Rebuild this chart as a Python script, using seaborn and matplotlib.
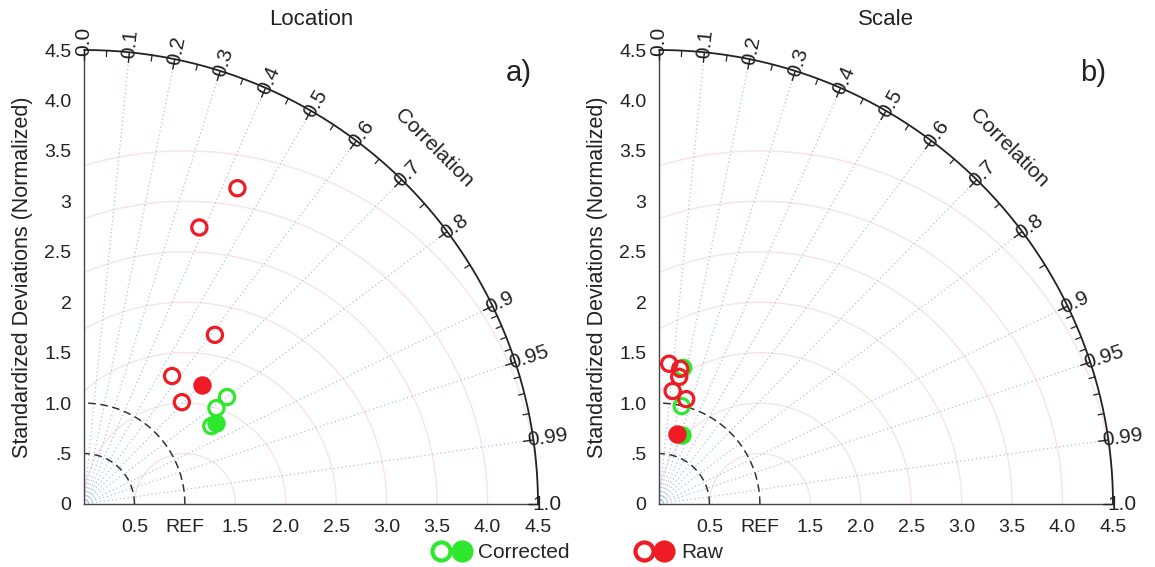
import numpy as np
import matplotlib
matplotlib.use("Agg")
import matplotlib.pyplot as plt
import seaborn as sns
from matplotlib.lines import Line2D
from matplotlib.legend_handler import HandlerTuple

# ---------------- data ----------------
panel_titles = ["Location", "Scale"]
panel_tags = ["a)", "b)"]

# Location panel (a): normalized standard deviation and correlation
loc_raw_std = [3.48, 2.97, 2.12, 1.54, 1.40]
loc_raw_cor = [0.437, 0.385, 0.612, 0.567, 0.693]
loc_raw_mean_std = [1.66]
loc_raw_mean_cor = [0.704]
loc_corr_std = [1.77, 1.62, 1.48]
loc_corr_cor = [0.801, 0.810, 0.853]
loc_corr_mean_std = [1.535]
loc_corr_mean_cor = [0.853]

# Scale panel (b)
sca_raw_std = [1.394, 1.356, 1.276, 1.128, 1.074]
sca_raw_cor = [0.072, 0.155, 0.157, 0.120, 0.251]
sca_raw_mean_std = [0.712]
sca_raw_mean_cor = [0.246]
sca_corr_std = [1.371, 0.996]
sca_corr_cor = [0.175, 0.226]
sca_corr_mean_std = [0.721]
sca_corr_mean_cor = [0.312]

cor_major = [0.0, 0.1, 0.2, 0.3, 0.4, 0.5, 0.6, 0.7, 0.8, 0.9, 0.95, 0.99, 1.0]
cor_major_labels = ["0.0", "0.1", "0.2", "0.3", "0.4", "0.5", "0.6", "0.7",
                    "0.8", "0.9", "0.95", "0.99", "1.0"]
cor_minor = [0.05, 0.15, 0.25, 0.35, 0.45, 0.55, 0.65, 0.75, 0.85,
             0.91, 0.92, 0.93, 0.94, 0.96, 0.97, 0.98]
x_ticks = [0.5, 1.0, 1.5, 2.0, 2.5, 3.0, 3.5, 4.0, 4.5]
x_tick_labels = ["0.5", "REF", "1.5", "2.0", "2.5", "3.0", "3.5", "4.0", "4.5"]
y_ticks = [0, 0.5, 1.0, 1.5, 2.0, 2.5, 3.0, 3.5, 4.0, 4.5]
y_tick_labels = ["0", ".5", "1.0", "1.5", "2", "2.5", "3", "3.5", "4.0", "4.5"]
rms_radii = [0.5, 1.0, 1.5, 2.0, 2.5, 3.0, 3.5]
ref_arcs = [0.5, 1.0]
R_MAX = 4.5

RED = "#ee1c24"
GREEN = "#2ee82e"

sns.set_theme(style="white")
plt.rcParams["font.family"] = ["Liberation Sans", "DejaVu Sans"]

fig = plt.figure(figsize=(11.55, 5.67), dpi=100)
W, H = 1155, 567
size_px = 454
ax_a = fig.add_axes([84 / W, 63 / H, size_px / W, size_px / H])
ax_b = fig.add_axes([659 / W, 63 / H, size_px / W, size_px / H])


def polar_xy(std, cor):
    std = np.asarray(std, float)
    cor = np.asarray(cor, float)
    return std * cor, std * np.sqrt(1 - cor ** 2)


def draw_frame(ax, title, tag):
    ax.set_xlim(0, R_MAX)
    ax.set_ylim(0, R_MAX)
    for s in ["top", "right"]:
        ax.spines[s].set_visible(False)
    for s in ["left", "bottom"]:
        ax.spines[s].set_color("#444444")
        ax.spines[s].set_linewidth(1.0)
    ax.set_xticks(x_ticks)
    ax.set_xticklabels(x_tick_labels)
    ax.set_yticks(y_ticks)
    ax.set_yticklabels(y_tick_labels)
    ax.tick_params(axis="both", direction="in", length=8, width=1,
                   color="#444444", labelsize=14, labelcolor="#222222")
    ax.tick_params(axis="x", pad=11)
    ax.tick_params(axis="y", pad=9)

    # RMS arcs around REF
    t = np.linspace(0, np.pi, 600)
    for r in rms_radii:
        x = 1 + r * np.cos(t)
        y = r * np.sin(t)
        m = (x < 0) | (np.hypot(x, y) > R_MAX)
        x[m] = np.nan
        y[m] = np.nan
        ax.plot(x, y, color="#f8e3e5", lw=1.0, zorder=1)

    # correlation rays
    for c in cor_major[1:-1]:
        ax.plot([0, R_MAX * c], [0, R_MAX * np.sqrt(1 - c ** 2)],
                ls=(0, (1, 2.2)), color="#adc2ea", lw=0.9, zorder=1)

    # dashed reference arcs
    tq = np.linspace(0, np.pi / 2, 200)
    for r in ref_arcs:
        ax.plot(r * np.cos(tq), r * np.sin(tq), ls=(0, (5, 3)),
                color="#333333", lw=1.1, zorder=2)

    # outer arc
    ax.plot(R_MAX * np.cos(tq), R_MAX * np.sin(tq), color="#222222",
            lw=1.3, clip_on=False, zorder=3)
    for c in cor_major:
        s = np.sqrt(1 - c ** 2)
        ax.plot([(R_MAX - 0.1) * c, R_MAX * c], [(R_MAX - 0.1) * s, R_MAX * s],
                color="#222222", lw=1.0, clip_on=False, zorder=3)
    for c in cor_minor:
        s = np.sqrt(1 - c ** 2)
        ax.plot([(R_MAX - 0.06) * c, R_MAX * c], [(R_MAX - 0.06) * s, R_MAX * s],
                color="#222222", lw=0.9, clip_on=False, zorder=3)
    for c, lab in zip(cor_major, cor_major_labels):
        s = np.sqrt(1 - c ** 2)
        ang = np.degrees(np.arccos(c))
        ax.text(4.44 * c, 4.44 * s, lab, rotation=ang, rotation_mode="anchor",
                ha="left", va="center", fontsize=15, color="#222222",
                clip_on=False)

    ax.text(3.47, 3.53, "Correlation", rotation=-45, ha="center", va="center",
            fontsize=15, color="#222222", rotation_mode="anchor")
    ax.text(0.5, 1.068, title, transform=ax.transAxes, ha="center",
            va="center", fontsize=16, color="#222222")
    ax.text(0.957, 0.95, tag, transform=ax.transAxes, ha="center",
            va="center", fontsize=21, color="#222222")
    ax.set_ylabel("Standardized Deviations (Normalized)", fontsize=15.5,
                  color="#222222", labelpad=8)


def draw_points(ax, std, cor, color, filled):
    x, y = polar_xy(std, cor)
    sns.scatterplot(x=x, y=y, ax=ax, s=120, marker="o",
                    facecolor=color if filled else "none",
                    edgecolor=color, linewidth=2.3, zorder=6,
                    clip_on=False, legend=False)


panels = [
    (ax_a, loc_raw_std, loc_raw_cor, loc_raw_mean_std, loc_raw_mean_cor,
     loc_corr_std, loc_corr_cor, loc_corr_mean_std, loc_corr_mean_cor),
    (ax_b, sca_raw_std, sca_raw_cor, sca_raw_mean_std, sca_raw_mean_cor,
     sca_corr_std, sca_corr_cor, sca_corr_mean_std, sca_corr_mean_cor),
]

for i, (ax, rs, rc, rms, rmc, cs, cc, cms, cmc) in enumerate(panels):
    draw_frame(ax, panel_titles[i], panel_tags[i])
    draw_points(ax, cs, cc, GREEN, False)
    draw_points(ax, cms, cmc, GREEN, True)
    draw_points(ax, rs, rc, RED, False)
    draw_points(ax, rms, rmc, RED, True)

# legends
def legend_handles(color):
    h_open = Line2D([], [], ls="none", marker="o", ms=13, mfc="white",
                    mec=color, mew=3)
    h_fill = Line2D([], [], ls="none", marker="o", ms=13, mfc=color,
                    mec=color, mew=3)
    return (h_open, h_fill)

fig.legend(handles=[legend_handles(GREEN)], labels=["Corrected"],
           handler_map={tuple: HandlerTuple(ndivide=None, pad=0.0)},
           loc="center", bbox_to_anchor=(500 / W, 1 - 553 / H), frameon=False,
           fontsize=15, handlelength=2.0, handletextpad=0.3)
fig.legend(handles=[legend_handles(RED)], labels=["Raw"],
           handler_map={tuple: HandlerTuple(ndivide=None, pad=0.0)},
           loc="center", bbox_to_anchor=(678 / W, 1 - 553 / H), frameon=False,
           fontsize=15, handlelength=2.0, handletextpad=0.3)

fig.savefig("out.png", dpi=100)
